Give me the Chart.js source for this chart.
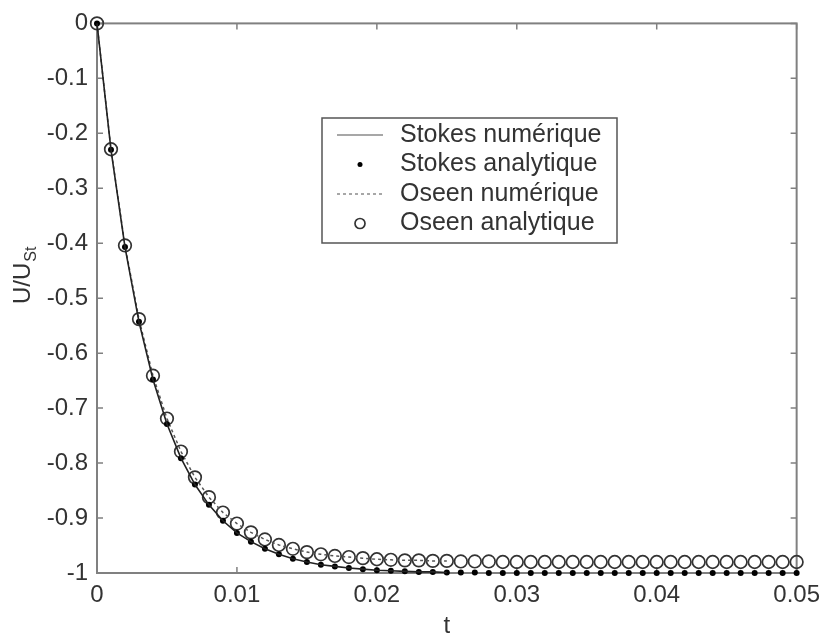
<!DOCTYPE html>
<html>
<head>
<meta charset="utf-8">
<script src="https://cdn.jsdelivr.net/npm/chart.js@4/dist/chart.umd.min.js"></script>
<style>
  html, body { margin: 0; padding: 0; background: #fff; }
  canvas { display: block; }
</style>
</head>
<body>
<canvas id="chart" width="828" height="644"></canvas>
<script>
// time samples, analytic solutions (every 1 ms up to 50 ms)
const tAnalytic = [
  0, 0.001, 0.002, 0.003, 0.004, 0.005, 0.006, 0.007, 0.008, 0.009,
  0.010, 0.011, 0.012, 0.013, 0.014, 0.015, 0.016, 0.017, 0.018, 0.019,
  0.020, 0.021, 0.022, 0.023, 0.024, 0.025, 0.026, 0.027, 0.028, 0.029,
  0.030, 0.031, 0.032, 0.033, 0.034, 0.035, 0.036, 0.037, 0.038, 0.039,
  0.040, 0.041, 0.042, 0.043, 0.044, 0.045, 0.046, 0.047, 0.048, 0.049,
  0.050
];
const stokesAnalytic = [
  0, -0.230, -0.407, -0.543, -0.648, -0.729, -0.791, -0.839, -0.876, -0.905,
  -0.927, -0.943, -0.956, -0.966, -0.974, -0.980, -0.985, -0.988, -0.991, -0.993,
  -0.995, -0.996, -0.997, -0.998, -0.998, -0.999, -0.999, -0.999, -1, -1,
  -1, -1, -1, -1, -1, -1, -1, -1, -1, -1,
  -1, -1, -1, -1, -1, -1, -1, -1, -1, -1,
  -1
];
const oseenAnalytic = [
  0, -0.229, -0.404, -0.538, -0.641, -0.719, -0.779, -0.826, -0.862, -0.890,
  -0.910, -0.926, -0.939, -0.949, -0.956, -0.962, -0.966, -0.969, -0.971, -0.973,
  -0.975, -0.976, -0.977, -0.977, -0.978, -0.978, -0.979, -0.979, -0.979, -0.980,
  -0.980, -0.980, -0.980, -0.980, -0.980, -0.980, -0.980, -0.980, -0.980, -0.980,
  -0.980, -0.980, -0.980, -0.980, -0.980, -0.980, -0.980, -0.980, -0.980, -0.980,
  -0.980
];

// numerical runs stop at 25 ms
const tNumeric = [
  0, 0.001, 0.002, 0.003, 0.004, 0.005, 0.006, 0.007, 0.008, 0.009,
  0.010, 0.011, 0.012, 0.013, 0.014, 0.015, 0.016, 0.017, 0.018, 0.019,
  0.020, 0.021, 0.022, 0.023, 0.024, 0.025
];
const stokesNumeric = [
  0, -0.230, -0.407, -0.543, -0.648, -0.729, -0.791, -0.839, -0.876, -0.905,
  -0.927, -0.943, -0.956, -0.966, -0.974, -0.980, -0.985, -0.988, -0.991, -0.993,
  -0.995, -0.996, -0.997, -0.998, -0.998, -0.999
];
const oseenNumeric = [
  0, -0.229, -0.404, -0.538, -0.641, -0.719, -0.779, -0.826, -0.862, -0.890,
  -0.910, -0.926, -0.939, -0.949, -0.956, -0.962, -0.966, -0.969, -0.971, -0.973,
  -0.975, -0.976, -0.977, -0.977, -0.978, -0.978
];

const xTicks = [0, 0.01, 0.02, 0.03, 0.04, 0.05];
const xTickLabels = ['0', '0.01', '0.02', '0.03', '0.04', '0.05'];
const yTicks = [-1, -0.9, -0.8, -0.7, -0.6, -0.5, -0.4, -0.3, -0.2, -0.1, 0];
const yTickLabels = ['-1', '-0.9', '-0.8', '-0.7', '-0.6', '-0.5', '-0.4', '-0.3', '-0.2', '-0.1', '0'];

const FONT = "'Liberation Sans', Arial, Helvetica, sans-serif";
const TEXT = '#333';
const AXIS = '#808080';

function pts(xs, ys) {
  return xs.map((x, i) => ({ x: x, y: ys[i] }));
}

// box around the axes with inward ticks on all four sides
const frame = {
  id: 'frame',
  beforeDatasetsDraw(chart) {
    const { ctx, chartArea: a, scales } = chart;
    const tl = 6;
    ctx.save();
    ctx.strokeStyle = AXIS;
    ctx.lineWidth = 2;
    ctx.strokeRect(a.left, a.top, a.right - a.left, a.bottom - a.top);
    ctx.lineWidth = 1.5;
    ctx.beginPath();
    xTicks.forEach(v => {
      const x = scales.x.getPixelForValue(v);
      ctx.moveTo(x, a.bottom); ctx.lineTo(x, a.bottom - tl);
      ctx.moveTo(x, a.top); ctx.lineTo(x, a.top + tl);
    });
    yTicks.forEach(v => {
      const y = scales.y.getPixelForValue(v);
      ctx.moveTo(a.left, y); ctx.lineTo(a.left + tl, y);
      ctx.moveTo(a.right, y); ctx.lineTo(a.right - tl, y);
    });
    ctx.stroke();
    ctx.restore();
  }
};

// legend box inside the plot, upper middle
const legendBox = {
  id: 'legendBox',
  afterDraw(chart) {
    const ctx = chart.ctx;
    const box = { x: 322, y: 118, w: 295, h: 125 };
    const rowH = 29.5;
    const symX = 360;
    ctx.save();
    ctx.fillStyle = '#fff';
    ctx.fillRect(box.x, box.y, box.w, box.h);
    ctx.strokeStyle = '#555';
    ctx.lineWidth = 1.5;
    ctx.strokeRect(box.x, box.y, box.w, box.h);
    ctx.font = '25px ' + FONT;
    ctx.textBaseline = 'middle';
    ctx.textAlign = 'left';
    chart.data.datasets.forEach((ds, i) => {
      const y = box.y + 17 + rowH * i;
      if (ds.showLine === false) {
        ctx.beginPath();
        ctx.setLineDash([]);
        if (ds.pointBorderWidth > 0) {
          ctx.arc(symX, y, 5, 0, Math.PI * 2);
          ctx.strokeStyle = ds.pointBorderColor;
          ctx.lineWidth = ds.pointBorderWidth;
          ctx.stroke();
        } else {
          ctx.arc(symX, y, 2.5, 0, Math.PI * 2);
          ctx.fillStyle = ds.pointBackgroundColor;
          ctx.fill();
        }
      } else {
        ctx.beginPath();
        ctx.strokeStyle = ds.legendColor;
        ctx.lineWidth = ds.borderWidth;
        ctx.setLineDash(ds.borderDash || []);
        ctx.moveTo(symX - 23, y);
        ctx.lineTo(symX + 23, y);
        ctx.stroke();
      }
      ctx.setLineDash([]);
      ctx.fillStyle = TEXT;
      ctx.fillText(ds.label, 400, y);
    });
    ctx.restore();
  }
};

// axis titles: t and U/U_St with subscript
const axisTitles = {
  id: 'axisTitles',
  afterDraw(chart) {
    const { ctx, chartArea: a } = chart;
    ctx.save();
    ctx.fillStyle = TEXT;
    ctx.font = '24px ' + FONT;
    ctx.textAlign = 'center';
    ctx.textBaseline = 'middle';
    ctx.fillText('t', (a.left + a.right) / 2, 626);

    ctx.translate(30, 304);
    ctx.rotate(-Math.PI / 2);
    ctx.textAlign = 'left';
    ctx.textBaseline = 'alphabetic';
    ctx.fillText('U/U', 0, 0);
    const w = ctx.measureText('U/U').width;
    ctx.font = '16px ' + FONT;
    ctx.fillText('St', w + 1, 6);
    ctx.restore();
  }
};

new Chart(document.getElementById('chart'), {
  type: 'line',
  data: {
    datasets: [
      {
        label: 'Stokes numérique',
        data: pts(tNumeric, stokesNumeric),
        borderColor: '#222',
        legendColor: '#8a8a8a',
        borderWidth: 1.6,
        pointRadius: 0,
        tension: 0,
        clip: false
      },
      {
        label: 'Stokes analytique',
        data: pts(tAnalytic, stokesAnalytic),
        showLine: false,
        pointRadius: 3,
        pointBackgroundColor: '#000',
        pointBorderColor: '#000',
        pointBorderWidth: 0,
        clip: false
      },
      {
        label: 'Oseen numérique',
        data: pts(tNumeric, oseenNumeric),
        borderColor: '#555',
        legendColor: '#8a8a8a',
        borderDash: [3, 3],
        borderWidth: 1.5,
        pointRadius: 0,
        tension: 0,
        clip: false
      },
      {
        label: 'Oseen analytique',
        data: pts(tAnalytic, oseenAnalytic),
        showLine: false,
        pointRadius: 6.3,
        pointBackgroundColor: 'rgba(0,0,0,0)',
        pointBorderColor: '#333',
        pointBorderWidth: 1.7,
        clip: false
      }
    ]
  },
  options: {
    responsive: false,
    animation: false,
    devicePixelRatio: 1,
    layout: { padding: { top: 20, right: 25, left: 0, bottom: 0 } },
    plugins: {
      legend: { display: false },
      tooltip: { enabled: false }
    },
    scales: {
      x: {
        type: 'linear',
        min: 0,
        max: 0.05,
        afterFit: s => { s.height = 71; },
        afterBuildTicks: s => { s.ticks = xTicks.map(v => ({ value: v })); },
        ticks: {
          callback: (v, i) => xTickLabels[i],
          font: { family: FONT, size: 24 },
          color: TEXT,
          padding: 8,
          maxRotation: 0,
          autoSkip: false
        },
        grid: { display: false, drawTicks: false },
        border: { display: false }
      },
      y: {
        type: 'linear',
        min: -1,
        max: 0,
        afterFit: s => { s.width = 97; },
        afterBuildTicks: s => { s.ticks = yTicks.map(v => ({ value: v })); },
        ticks: {
          callback: (v, i) => yTickLabels[i],
          font: { family: FONT, size: 24 },
          color: TEXT,
          padding: 9,
          autoSkip: false
        },
        grid: { display: false, drawTicks: false },
        border: { display: false }
      }
    }
  },
  plugins: [frame, legendBox, axisTitles]
});
</script>
</body>
</html>
